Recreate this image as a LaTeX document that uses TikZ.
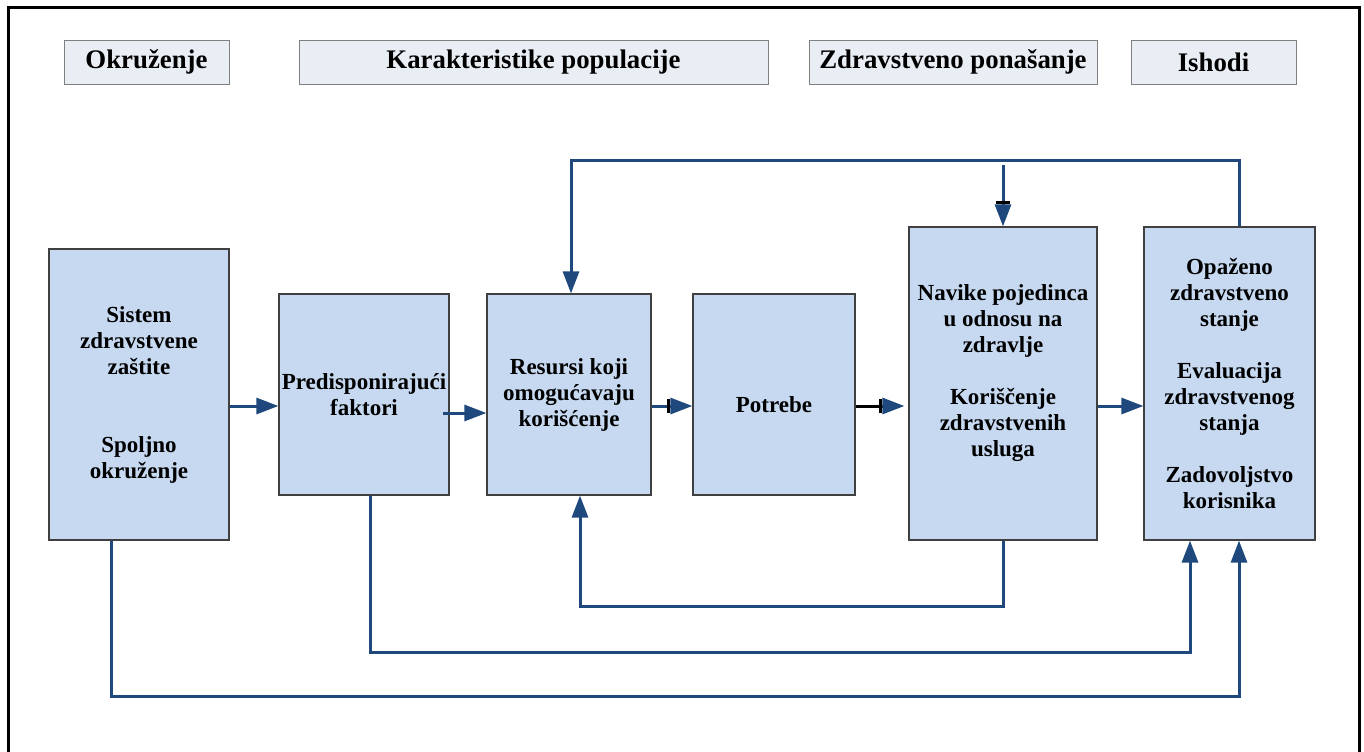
\documentclass[tikz,border=0pt]{standalone}
\usepackage{fontspec}
\setmainfont{Liberation Serif}
\usepackage{xcolor}
\usepackage{tikz}
\usetikzlibrary{arrows.meta}

\definecolor{flowblue}{RGB}{31,73,125}
\definecolor{boxblue}{RGB}{198,217,241}
\definecolor{headfill}{RGB}{233,237,244}

\tikzset{
  headbox/.style={draw=black!50!white, fill=headfill, line width=0.5pt, minimum height=22pt, inner sep=0pt, font=\fontsize{13.4}{16}\selectfont\bfseries},
  mainbox/.style={draw=black!75!white, fill=boxblue, line width=0.6pt, inner sep=0pt, align=center, font=\fontsize{11.5}{13}\selectfont\bfseries},
  boxtext/.style={align=center, inner sep=0pt, font=\fontsize{11.5}{13}\selectfont\bfseries},
  flow/.style={draw=flowblue, line width=1.5pt, -{Triangle[length=11pt,width=8pt]}},
  flowbar/.style={draw=flowblue, line width=1.5pt, -{Bar[black,width=7pt,sep=0pt] Triangle[length=11pt,width=8pt]}},
}

\begin{document}
\begin{tikzpicture}[x=0.5pt,y=-0.5pt]
\useasboundingbox (0,0) rectangle (1364,751);
\draw[line width=1.5pt] (8,770)--(8,7)--(1359,7)--(1359,770);

% naslovi
\node[headbox, minimum width=82.5pt] (hOkr) at (146.5,62) {Okruženje};
\node[headbox, minimum width=234.5pt] (hKar) at (533.5,62) {Karakteristike populacije};
\node[headbox, minimum width=144pt] (hZdr) at (953,62) {Zdravstveno ponašanje};
\node[headbox, minimum width=82.5pt] (hIsh) at (1213.5,62) {Ishodi};

% blokovi
\node[mainbox, minimum width=90pt, minimum height=145.5pt] (sistem) at (139,394.5) {Sistem\\zdravstvene\\zaštite\\[26pt]Spoljno\\okruženje};
\node[mainbox, minimum width=85pt, minimum height=100.5pt] (predisp) at (364,394.5) {Predisponirajući\\faktori};
\node[mainbox, minimum width=82pt, minimum height=100.5pt] (resursi) at (569,394.5) {Resursi koji\\omogućavaju\\korišćenje};
\node[mainbox, minimum width=81pt, minimum height=100.5pt] (potrebe) at (774,394.5) {};
\node[boxtext] (potrebeTxt) at (774,405) {Potrebe};
\node[mainbox, minimum width=94pt, minimum height=156.5pt] (navike) at (1003,383.5) {};
\node[boxtext] (navikeTxt) at (1003,373) {Navike pojedinca\\u odnosu na\\zdravlje\\[13pt]Koriščenje\\zdravstvenih\\usluga};
\node[mainbox, minimum width=85.5pt, minimum height=156.5pt] (opazeno) at (1229.5,383.5) {Opaženo\\zdravstveno\\stanje\\[13pt]Evaluacija\\zdravstvenog\\stanja\\[13pt]Zadovoljstvo\\korisnika};

% tacke za veze
\coordinate (row) at (0,406);
\coordinate (rowB) at (443,413);
\coordinate (t1) at (1239,160);
\coordinate (t2) at (571,160);
\coordinate (t3) at (1003,165);
\coordinate (b1) at (1003,606);
\coordinate (b2) at (580,606);
\coordinate (b3) at (370,652);
\coordinate (b4) at (1190,652);
\coordinate (b5) at (111,696);
\coordinate (b6) at (1239,696);

% veze
\draw[flow] (sistem.east |- row) -- (predisp.west |- row);
\draw[flow] (rowB) -- (resursi.west |- rowB);
\draw[flowbar] (resursi.east |- row) -- (potrebe.west |- row);
\draw[black, line width=1.5pt, shorten >=2pt, -{Bar[width=7pt,sep=0pt] Triangle[color=flowblue,length=11pt,width=8pt]}] (potrebe.east |- row) -- (navike.west |- row);
\draw[flow] (navike.east |- row) -- (opazeno.west |- row);

\draw[flow] (opazeno.north -| t1) -- (t1) -- (t2) -- (resursi.north -| t2);
\draw[flowbar] (t3) -- (navike.north);
\draw[flow] (navike.south) -- (b1) -- (b2) -- (resursi.south -| b2);
\draw[flow] (predisp.south -| b3) -- (b3) -- (b4) -- (opazeno.south -| b4);
\draw[flow] (sistem.south -| b5) -- (b5) -- (b6) -- (opazeno.south -| b6);

\end{tikzpicture}
\end{document}
